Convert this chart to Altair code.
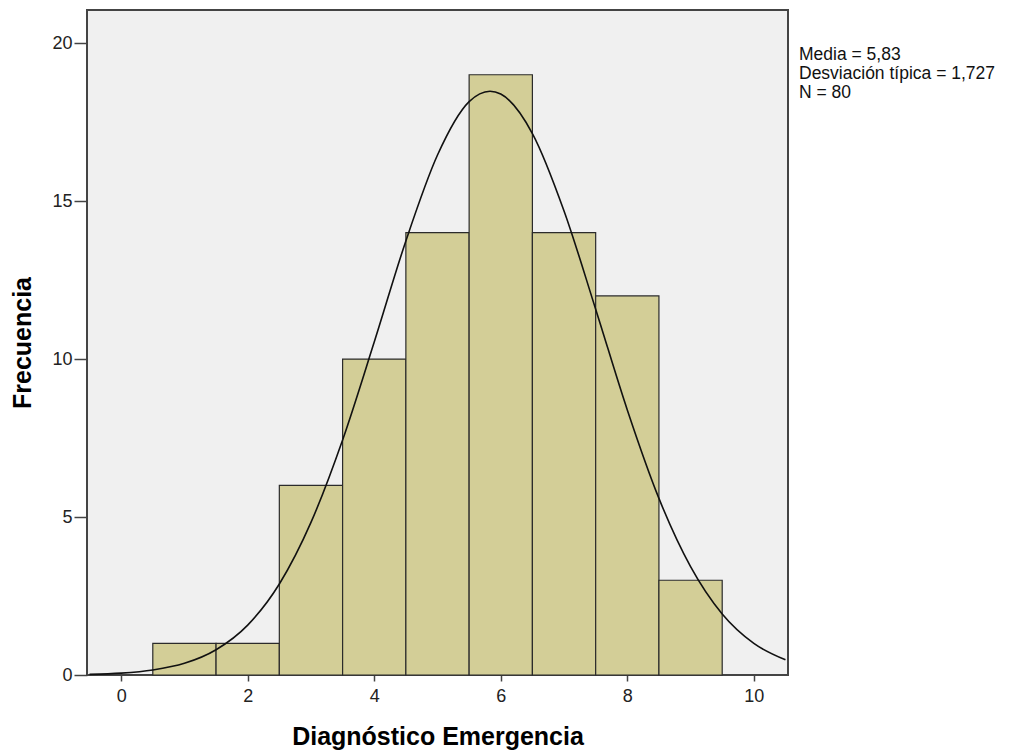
import altair as alt
import pandas as pd

# Histogram bins (centers) and counts
bin_centers = [1, 2, 3, 4, 5, 6, 7, 8, 9]
counts = [1, 1, 6, 10, 14, 19, 14, 12, 3]
bin_width = 1.0

# Normal curve
curve_x = [-0.5, 0, 0.5, 1, 1.5, 2, 2.5, 3, 3.5, 4, 4.5, 5, 5.5, 5.83,
           6, 6.5, 7, 7.5, 8, 8.5, 9, 9.5, 10, 10.5]
curve_y = [0.02, 0.06, 0.16, 0.37, 0.80, 1.58, 2.88, 4.83, 7.44, 10.54, 13.74,
           16.46, 18.15, 18.48, 18.39, 17.14, 14.69, 11.58, 8.39, 5.59, 3.43,
           1.93, 1.00, 0.48]

media = "5,83"
desv = "1,727"
n_total = "80"

x_ticks = [0, 2, 4, 6, 8, 10]
y_ticks = [0, 5, 10, 15, 20]
x_domain = [-0.54, 10.54]
y_domain = [0, 21.05]

bars = pd.DataFrame({
    "x0": [c - bin_width / 2 for c in bin_centers],
    "x1": [c + bin_width / 2 for c in bin_centers],
    "count": counts,
})
curve = pd.DataFrame({"x": curve_x, "y": curve_y})

W, H = 701, 665
FONT = "Liberation Sans"
GRAY = "#444444"

xscale = alt.Scale(domain=x_domain, nice=False, zero=False)
yscale = alt.Scale(domain=y_domain, nice=False)

bar_layer = alt.Chart(bars).mark_rect(
    fill="#D3CE97", stroke="#2b2b2b", strokeWidth=1.2
).encode(
    x=alt.X("x0:Q", scale=xscale, axis=alt.Axis(
        values=x_ticks, format="d", title="Diagnóstico Emergencia",
        grid=False, domain=False, tickColor=GRAY, tickSize=6, tickWidth=1.5,
        labelFont=FONT, labelFontSize=18, labelColor="#222222", labelPadding=6,
        titleFont=FONT, titleFontSize=25, titleFontWeight="bold", titleColor="#000000",
        titleY=69, titleBaseline="alphabetic")),
    x2="x1:Q",
    y=alt.Y("count:Q", scale=yscale, axis=alt.Axis(
        values=y_ticks, format="d", title="Frecuencia",
        grid=False, domain=False, tickColor=GRAY, tickSize=13, tickWidth=1.5,
        labelFont=FONT, labelFontSize=18, labelColor="#222222", labelPadding=2,
        titleFont=FONT, titleFontSize=25, titleFontWeight="bold", titleColor="#000000",
        titleX=-65, titleY=H / 2, titleAngle=270, titleAlign="center",
        titleBaseline="middle")),
    y2=alt.datum(0),
)

curve_layer = alt.Chart(curve).mark_line(
    color="#111111", strokeWidth=1.6, interpolate="monotone"
).encode(
    x=alt.X("x:Q", scale=xscale),
    y=alt.Y("y:Q", scale=yscale),
)

legend_text = f"Media = {media}\nDesviación típica = {desv}\nN = {n_total}"
legend_layer = alt.Chart(pd.DataFrame({"t": [legend_text]})).mark_text(
    align="left", baseline="top", font=FONT, fontSize=17.5, lineHeight=19,
    lineBreak="\n", color="#111111"
).encode(
    text="t:N",
    x=alt.value(W + 11),
    y=alt.value(36),
)

chart = alt.layer(bar_layer, curve_layer, legend_layer).properties(
    width=W, height=H,
    autosize=alt.AutoSizeParams(type="none"),
    padding={"left": 79, "top": 2, "right": 217, "bottom": 77},
    background="#ffffff",
).configure_view(
    fill="#F0F0F0", stroke=GRAY, strokeWidth=2
)

chart.save("out.html", embed_options={"renderer": "svg", "actions": False})
